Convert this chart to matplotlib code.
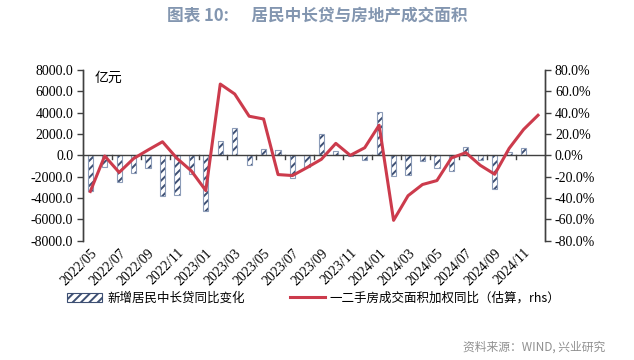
import numpy as np
import pandas as pd
import matplotlib
matplotlib.use("Agg")
import matplotlib.pyplot as plt
from matplotlib.patches import Patch
from matplotlib.lines import Line2D

plt.rcParams['font.family'] = ['Noto Sans CJK SC', 'DejaVu Sans']
plt.rcParams['hatch.linewidth'] = 1.4

months = pd.period_range("2022-05", "2024-12", freq="M").strftime("%Y/%m").tolist()

# 新增居民中长贷同比变化（亿元），2024/12 无数据
loans = [-3380, -1050, -2480, -1610, -1210, -3850, -3720, -1740, -5180, 1330,
         2570, -870, 620, 470, -2140, -1070, 2020, 370, -80, -400,
         4030, -1920, -1860, -500, -1210, -1430, 740, -400, -3160, 340,
         650, np.nan]

# 一二手房成交面积加权同比（%）
area_yoy = [-33.8, -0.6, -16.0, -3.0, 5.0, 12.7, -2.8, -14.6, -33.0, 66.7,
            57.4, 36.6, 34.0, -18.0, -18.9, -11.5, -3.7, 11.2, 0.0, 7.1,
            28.2, -60.8, -37.8, -27.3, -23.6, -2.5, 2.5, -9.3, -17.7, 6.5,
            24.2, 37.5]

bar_face = "white"
hatch_col = "#3d4f73"
bar_edge = "#8c9cb8"
line_col = "#cc3b4c"
axis_col = "#404040"

fig = plt.figure(figsize=(6.34, 3.6), dpi=100)
ax = fig.add_axes([0.131, 0.331, 0.729, 0.475])
ax2 = ax.twinx()

x = np.arange(len(months))
w = 0.36
ax.bar(x, loans, w, color=bar_face, edgecolor=hatch_col, hatch="////", linewidth=0, zorder=2)
ax.bar(x, loans, w, fill=False, edgecolor=bar_edge, linewidth=0.8, zorder=3)
ax2.plot(x, area_yoy, color=line_col, lw=2.2, zorder=4)

ax.set_xlim(-0.5, len(months) - 0.5)
ax.set_ylim(-8000, 8000)
ax2.set_ylim(-80, 80)
ax.set_yticks(np.arange(-8000, 8001, 2000))
ax2.set_yticks(np.arange(-80, 81, 20))

tick_font = dict(family="Liberation Serif", size=10)
ax.set_yticklabels([f"{v:.1f}" for v in ax.get_yticks()], **tick_font)
ax2.set_yticklabels([f"{v:.1f}%" for v in ax2.get_yticks()], **tick_font)

for a in (ax, ax2):
    a.spines['top'].set_visible(False)
    a.spines['bottom'].set_visible(False)
    for s in ('left', 'right'):
        a.spines[s].set_color(axis_col)
        a.spines[s].set_linewidth(1.0)
    a.tick_params(axis='y', colors=axis_col, length=4, width=1.0, labelcolor="black", pad=3)

ax.axhline(0, color=axis_col, lw=1.0, zorder=3)

# 类别刻度：标签放在底部，刻度线在零轴处
ax.set_xticks(x[::2])
ax.set_xticklabels(months[::2], rotation=45, ha="right", rotation_mode="anchor",
                   family="Liberation Serif", fontsize=10)
ax.tick_params(axis='x', length=0, pad=4)
for b in np.arange(1.5, len(months) - 1, 2):
    ax.plot([b, b], [0, -300], color=axis_col, lw=1.0, zorder=3)

ax.text(0.025, 0.995, "亿元", transform=ax.transAxes, fontsize=10, va="top", ha="left")

handles = [Patch(facecolor="white", edgecolor=hatch_col, hatch="////", linewidth=0),
           Line2D([0], [0], color=line_col, lw=2.2)]
labels = ["新增居民中长贷同比变化", "一二手房成交面积加权同比（估算，rhs）"]
leg = fig.legend(handles, labels, loc="center", bbox_to_anchor=(0.495, 0.172), ncol=2,
                 frameon=False, fontsize=9, columnspacing=3.6, handlelength=2.8,
                 handletextpad=0.4)
leg.get_patches()[0].set_linewidth(0.8)
leg.get_patches()[0].set_edgecolor(hatch_col)

fig.text(0.5, 0.955, "图表 10:      居民中长贷与房地产成交面积", ha="center", va="center",
         fontsize=12, fontweight="bold", color="#8396b0")
fig.text(0.955, 0.035, "资料来源：WIND, 兴业研究", ha="right", va="center",
         fontsize=8.5, color="#909090")

fig.savefig("out.png", dpi=100)
